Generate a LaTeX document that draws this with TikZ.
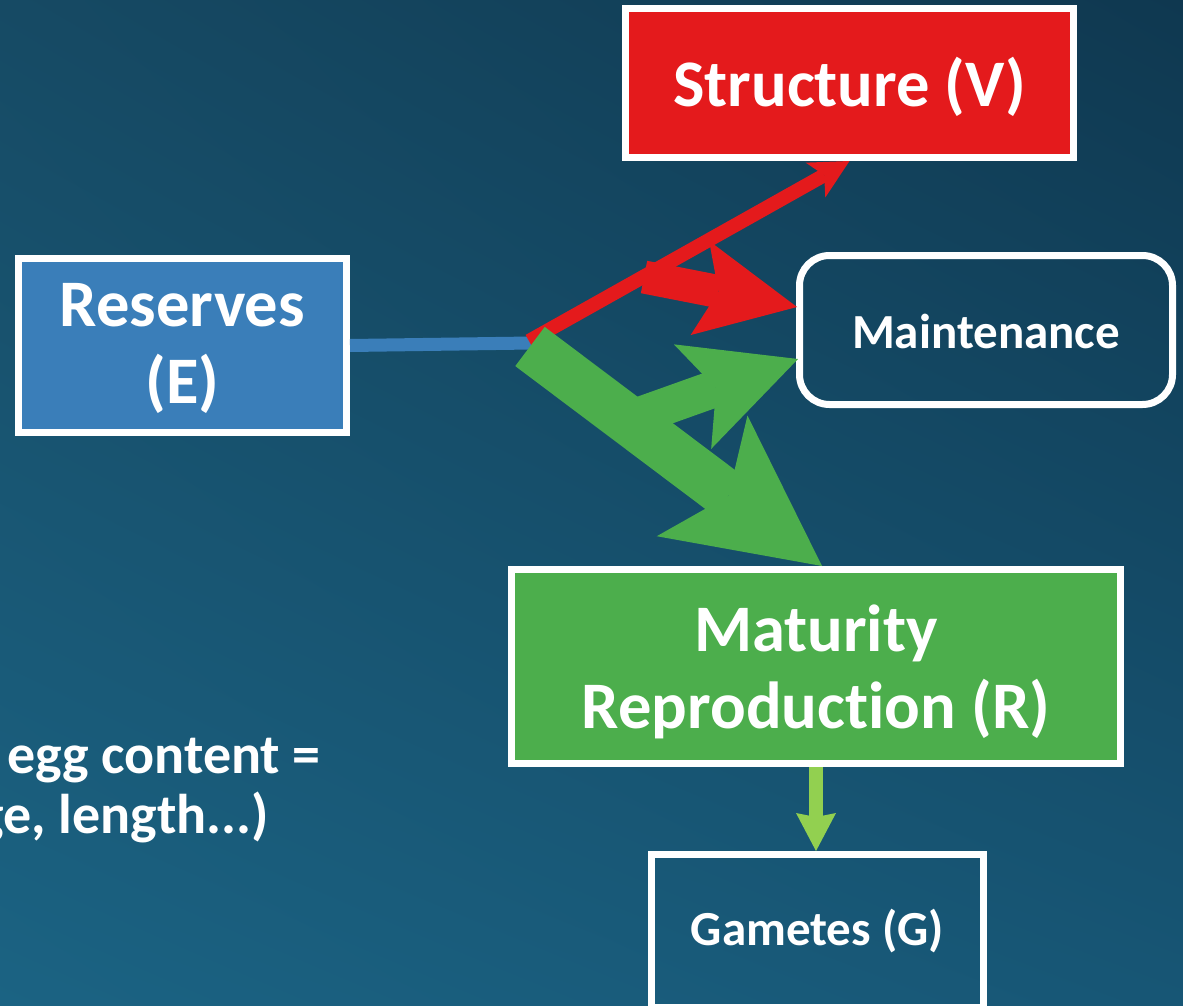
\documentclass[tikz,border=0pt]{standalone}
\usepackage{fontspec}
\setmainfont{Carlito}[Ligatures=NoCommon]
\usetikzlibrary{arrows.meta,calc,shadings}

\definecolor{bgUL}{HTML}{164A64}
\definecolor{bgUR}{HTML}{0F3850}
\definecolor{bgLL}{HTML}{1B6383}
\definecolor{bgLR}{HTML}{175675}
\definecolor{cRed}{HTML}{E41A1C}
\definecolor{cBlue}{HTML}{3A7EB9}
\definecolor{cGreen}{HTML}{4CAE4C}
\definecolor{cLime}{HTML}{92D050}

\begin{document}
\begin{tikzpicture}[x=1pt,y=-1pt,
  box/.style={draw=white, line width=7pt, inner sep=0pt},
  boxtext/.style={text=white, align=center, inner sep=0pt},
  bigtext/.style={font=\fontsize{66.5}{77}\selectfont\bfseries},
  midtext/.style={font=\fontsize{49}{56}\selectfont\bfseries},
  notetext/.style={font=\fontsize{56}{61}\selectfont\bfseries, text=white, inner sep=0pt},
  flow/.style={line cap=butt}
]
\clip (0,0) rectangle (1183,1006);
\shade[upper left=bgUL, upper right=bgUR, lower left=bgLL, lower right=bgLR]
  (0,0) rectangle (1183,1006);

% compartments
\node[box, fill=cRed, minimum width=448pt, minimum height=149pt] (V) at (849.5,83) {};
\node[box, fill=cBlue, minimum width=328pt, minimum height=174pt] (E) at (182.5,345.5) {};
\node[box, rounded corners=30pt, minimum width=373pt, minimum height=149pt] (M) at (986,330) {};
\node[box, fill=cGreen, minimum width=609pt, minimum height=194pt] (R) at (816,666.5) {};
\node[box, minimum width=332pt, minimum height=153pt] (G) at (817.5,931) {};

% compartment labels
\node[boxtext, bigtext] (Vt) at ($(V.center)+(0,4)$) {Structure (V)};
\node[boxtext, bigtext] (Et) at ($(E.center)+(0,3)$) {Reserves\\(E)};
\node[boxtext, midtext] (Mt) at ($(M.center)+(0,1)$) {Maintenance};
\node[boxtext, bigtext] (Rt) at ($(R.center)+(0,5)$) {Maturity\\Reproduction (R)};
\node[boxtext, midtext] (Gt) at ($(G.center)+(0,0)$) {Gametes (G)};

% note text
\node[notetext, anchor=base west] (n1) at (7,773) {egg content =};
\node[notetext, anchor=base east] (n2) at (269,833) {ge, length...)};

% flux connectors
\coordinate (split) at (532,343);
\coordinate (redstart) at (529,341);
\coordinate (rbranch) at (644,277);
\coordinate (gstart) at (530,346.5);
\coordinate (gbranch) at (627,420);

\draw[flow, cBlue, line width=13pt] (E.east) -- (split);
\draw[flow, cRed, line width=14pt,
  -{Stealth[length=39pt, width=40pt, inset=10pt, line width=0pt]}]
  (redstart) -- (V.south);
\draw[flow, cRed, line width=33pt,
  -{Stealth[length=99pt, width=96pt, inset=19pt, line width=0pt]}]
  (rbranch) -- ($(M.west)+(1,-23)$);
\draw[flow, cGreen, line width=49pt,
  -{Stealth[length=150pt, width=151pt, inset=33pt, line width=0pt]}]
  (gstart) -- ($(R.north)+(6,0)$);
\draw[flow, cGreen, line width=37pt,
  -{Stealth[length=112pt, width=111pt, inset=25pt, line width=0pt]}]
  (gbranch) -- ($(M.west)+(2,29)$);
\draw[flow, cLime, line width=14pt,
  -{Stealth[length=38pt, width=40pt, inset=4pt, line width=0pt]}]
  (R.south) -- (R.south |- G.north);
\end{tikzpicture}
\end{document}
